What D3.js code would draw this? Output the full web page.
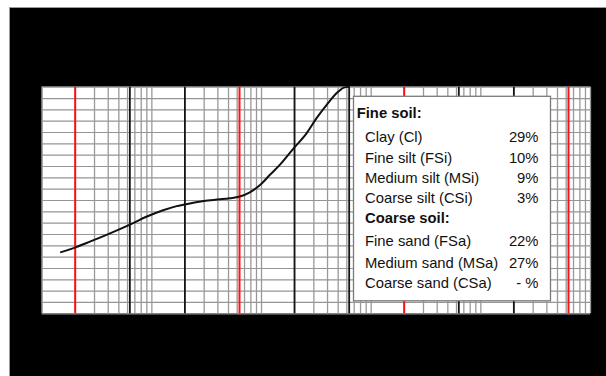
<!DOCTYPE html>
<html>
<head>
<meta charset="utf-8">
<script src="https://cdn.jsdelivr.net/npm/d3@7"></script>
<style>
  html, body { margin: 0; padding: 0; background: #fff; }
  svg { display: block; }
  .grid .domain { display: none; }
</style>
</head>
<body>
<svg id="chart" width="606" height="376"></svg>
<script>
// Grain size distribution (sieve + sedimentation), percent passing by grain diameter in mm
const grainSize = [0.0015, 0.002, 0.00275, 0.0039, 0.0063, 0.009, 0.0128, 0.017, 0.02, 0.03, 0.042, 0.052,
                   0.063, 0.079, 0.098, 0.12, 0.149, 0.2, 0.26, 0.32, 0.4, 0.49, 0.57, 0.63];
const percentPassing = [27, 29, 31.6, 34.6, 39, 42.6, 45.5, 47.3, 48, 49.6, 50.3, 50.8,
                        51.4, 53.4, 56.6, 61, 65.6, 73, 79.4, 86, 92.2, 97.2, 99.6, 100];

// Fraction boundaries (mm): main soil groups and their subdivisions
const groupBoundaries = [0.002, 0.063, 2, 63];
const subBoundaries = [0.0063, 0.02, 0.2, 0.63, 6.3, 20];

// Legend content
const fineHeading = "Fine soil:";
const coarseHeading = "Coarse soil:";
const fineNames = ["Clay (Cl)", "Fine silt (FSi)", "Medium silt (MSi)", "Coarse silt (CSi)"];
const fineShares = ["29%", "10%", "9%", "3%"];
const coarseNames = ["Fine sand (FSa)", "Medium sand (MSa)", "Coarse sand (CSa)"];
const coarseShares = ["22%", "27%", "- %"];

(function draw() {
  const svg = d3.select("#chart");

  // page frame
  svg.append("rect")
    .attr("x", 9.5).attr("y", 7.5).attr("width", 606).attr("height", 376)
    .attr("fill", "#000").attr("stroke", "#9a9a9a").attr("stroke-width", 1);

  const pLeft = 41.7, pRight = 590, pTop = 86.7, pBottom = 313.3;
  const x = d3.scaleLog().domain([0.001, 100]).range([pLeft, pRight]);
  const y = d3.scaleLinear().domain([0, 100]).range([pBottom, pTop]);
  const w = pRight - pLeft, h = pBottom - pTop;

  svg.append("rect")
    .attr("x", pLeft).attr("y", pTop)
    .attr("width", w).attr("height", h)
    .attr("fill", "#fff");

  const plot = svg.append("g");

  // horizontal grid every 5 %
  plot.append("g").attr("class", "grid")
    .attr("transform", `translate(${pLeft},0)`)
    .call(d3.axisLeft(y).ticks(20).tickSize(-w).tickFormat(""))
    .call(g => g.selectAll(".tick line").attr("stroke", "#959595").attr("stroke-width", 1.2));

  // logarithmic minor grid 1..9 per decade
  plot.append("g").attr("class", "grid")
    .attr("transform", `translate(0,${pBottom})`)
    .call(d3.axisBottom(x).tickValues(x.ticks()).tickSize(-h).tickFormat(""))
    .call(g => g.selectAll(".tick line").attr("stroke", "#999").attr("stroke-width", 1.3));

  // subdivision lines (fine / medium / coarse)
  plot.append("g").attr("class", "grid")
    .attr("transform", `translate(0,${pBottom})`)
    .call(d3.axisBottom(x).tickValues(subBoundaries).tickSize(-h).tickFormat(""))
    .call(g => g.selectAll(".tick line").attr("stroke", "#151515").attr("stroke-width", 1.8));

  // main group boundaries
  plot.append("g").attr("class", "grid")
    .attr("transform", `translate(0,${pBottom})`)
    .call(d3.axisBottom(x).tickValues(groupBoundaries).tickSize(-h).tickFormat(""))
    .call(g => g.selectAll(".tick line").attr("stroke", "#ff1010").attr("stroke-width", 2));

  // grading curve
  const line = d3.line()
    .x(d => x(d[0]))
    .y(d => y(d[1]))
    .curve(d3.curveMonotoneX);

  plot.append("path")
    .datum(d3.zip(grainSize, percentPassing))
    .attr("d", line)
    .attr("fill", "none")
    .attr("stroke", "#111")
    .attr("stroke-width", 2)
    .attr("stroke-linecap", "round");

  // legend
  const legend = svg.append("g");
  legend.append("rect")
    .attr("x", 353.5).attr("y", 96.3).attr("width", 197).attr("height", 204.5)
    .attr("fill", "#fff").attr("stroke", "#7a7a7a").attr("stroke-width", 1.3);

  const font = "'Liberation Sans', Arial, sans-serif";
  const fs = 14.8;
  const nameX = 365, headX = 356.7, valueX = 538.5;

  function text(xp, yp, str, opts = {}) {
    legend.append("text")
      .attr("x", xp).attr("y", yp)
      .attr("font-family", font)
      .attr("font-size", fs)
      .attr("font-weight", opts.bold ? "bold" : "normal")
      .attr("text-anchor", opts.anchor || "start")
      .attr("fill", "#111")
      .text(str);
  }

  text(headX, 118.3, fineHeading, { bold: true });
  const fineRows = [142, 162.7, 182.7, 202.7];
  fineNames.forEach((n, i) => {
    text(nameX, fineRows[i], n);
    text(valueX, fineRows[i], fineShares[i], { anchor: "end" });
  });
  text(nameX, 222.7, coarseHeading, { bold: true });
  const coarseRows = [246, 267.7, 287.7];
  coarseNames.forEach((n, i) => {
    text(nameX, coarseRows[i], n);
    text(valueX, coarseRows[i], coarseShares[i], { anchor: "end" });
  });
})();
</script>
</body>
</html>
